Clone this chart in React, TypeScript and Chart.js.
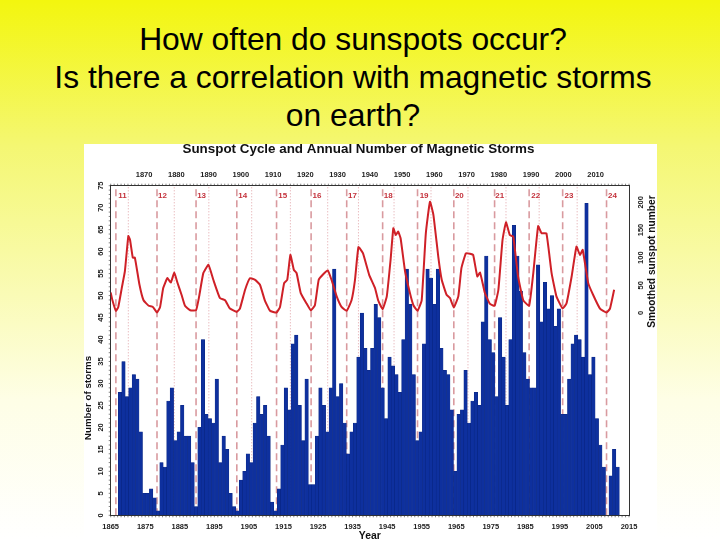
import { useEffect, useRef } from "react";
import Chart from "chart.js/auto";

const FIRST_STORM_YEAR = 1868;
// bars in the picture sit a little left of their year
const BAR_OFFSET = -0.3;

const stormCounts = [
  28, 35, 27, 29, 32, 31, 19, 5, 5, 6, 4, 1, 12, 11, 26, 29, 17, 19, 25, 18, 18, 12, 2, 20, 40, 23, 22, 21, 31, 12,
  18, 15, 5, 2, 1, 8, 10, 14, 12, 21, 27, 23, 25, 18, 3, 1, 6, 16, 29, 24, 39, 41, 25, 17, 31, 7, 7, 18, 29, 25,
  19, 29, 56, 27, 30, 21, 14, 19, 21, 36, 46, 38, 33, 38, 48, 45, 29, 22, 36, 34, 32, 28, 40, 56, 48, 32, 17, 19, 39, 56,
  54, 48, 56, 38, 33, 32, 24, 10, 23, 24, 33, 21, 26, 28, 25, 44, 59, 40, 37, 27, 45, 36, 25, 40, 66, 59, 51, 37, 31, 29,
  29, 57, 44, 53, 47, 50, 43, 47, 23, 23, 31, 39, 41, 40, 36, 71, 32, 36, 22, 16, 11, 0, 9, 15, 11,
];

const ssnYears = [
  1865, 1865.5, 1866.5, 1867.2, 1868.2, 1869.1, 1870.1, 1870.6, 1871.4, 1872, 1873.3, 1874.5, 1876, 1877.2, 1878.4,
  1879.3, 1880.2, 1881.4, 1882.4, 1883.4, 1884.3, 1885.5, 1886.5, 1888, 1889.7, 1890.6, 1891.8, 1893.3, 1894.7, 1896.6,
  1898.1, 1899.5, 1901.5, 1902.4, 1903.9, 1905.3, 1906.8, 1908.2, 1909.6, 1911.1, 1913, 1914, 1915.2, 1916.1, 1917,
  1918, 1918.8, 1920, 1921.7, 1922.9, 1924.1, 1925.2, 1926.5, 1927.8, 1928.9, 1930.4, 1931.8, 1933.3, 1934.7, 1935.7,
  1936.7, 1938, 1939.8, 1941.5, 1942.4, 1943.7, 1944.9, 1946, 1946.8, 1947.5, 1948.2, 1948.9, 1950.2, 1951.6, 1952.6,
  1953.8, 1955, 1956.2, 1957.4, 1958.4, 1959.8, 1960.8, 1962.2, 1963.2, 1964.3, 1965.6, 1966.5, 1967.8, 1969, 1969.9,
  1971.1, 1971.9, 1973.3, 1974.7, 1976.1, 1977.2, 1978.4, 1979.4, 1980.5, 1981.5, 1982.9, 1984.4, 1986.1, 1987.3, 1988.7,
  1989.7, 1991.1, 1992.6, 1994, 1995.8, 1996.9, 1998.4, 1999.8, 2000.8, 2001.6, 2003.2, 2004.6, 2006.6, 2008.5, 2009.5,
  2010.7,
];
const ssnValues = [
  37, 23, 4, 11, 45, 75, 139, 132, 100, 100, 52, 23, 13, 11, 1,
  11, 45, 63, 55, 73, 55, 33, 13, 5, 5, 30, 72, 87, 60, 27,
  23, 8, 2, 8, 42, 63, 60, 51, 23, 4, 1, 11, 54, 60, 105,
  78, 72, 36, 17, 5, 14, 60, 70, 77, 60, 30, 11, 4, 23, 60,
  119, 108, 69, 45, 23, 7, 30, 96, 153, 141, 147, 135, 75, 36, 14,
  4, 23, 144, 201, 177, 102, 60, 33, 27, 10, 30, 81, 108, 107, 105,
  66, 73, 36, 17, 13, 42, 132, 164, 141, 138, 66, 23, 13, 72, 157,
  144, 144, 72, 30, 8, 17, 66, 120, 105, 114, 54, 33, 8, 1, 8,
  42,
];

const minimumYears = [1866.5, 1878.4, 1889.7, 1901.5, 1913, 1923, 1933.3, 1943.7, 1953.8, 1964.3, 1976.1, 1986.1, 1995.8, 2008.5];
const maximumYears = [1870.1, 1883.4, 1893.4, 1905.8, 1917, 1927.8, 1936.7, 1947, 1957.7, 1968.4, 1979.4, 1989, 2000];
const cycleNames = ["11", "12", "13", "14", "15", "16", "17", "18", "19", "20", "21", "22", "23", "24"];
const cycleNameYears = [1868.4, 1880, 1891.3, 1903.2, 1914.8, 1924.7, 1935, 1945.3, 1955.7, 1965.9, 1977.6, 1988, 1997.6, 2010.2];

const bottomTicks = [1865, 1875, 1885, 1895, 1905, 1915, 1925, 1935, 1945, 1955, 1965, 1975, 1985, 1995, 2005, 2015];
const topTicks = [1870, 1880, 1890, 1900, 1910, 1920, 1930, 1940, 1950, 1960, 1970, 1980, 1990, 2000, 2010];
const stormTicks = [0, 5, 10, 15, 20, 25, 30, 35, 40, 45, 50, 55, 60, 65, 70, 75];
const ssnTicks = [0, 50, 100, 150, 200];

const TICK_FONT = { family: "'Liberation Sans'", size: 7.5, weight: "bold" as const };
const AXIS_COLOR = "#333";

const setTicks = (values: number[]) => (axis: any) => {
  axis.ticks = values.map((value) => ({ value }));
};
const fixSize = (key: "width" | "height", size: number) => (axis: any) => {
  axis[key] = size;
};

// title, axis titles, cycle numbers and the small ticks R draws between the labelled ones
const extrasPlugin = {
  id: "extras",
  afterDraw(chart: any) {
    const { ctx, scales, chartArea } = chart;
    const { x, y } = scales;

    ctx.save();
    ctx.strokeStyle = AXIS_COLOR;
    ctx.lineWidth = 0.6;
    ctx.beginPath();
    for (let year = 1865; year <= 2015; year++) {
      const px = x.getPixelForValue(year);
      ctx.moveTo(px, chartArea.top);
      ctx.lineTo(px, chartArea.top - 2);
      ctx.moveTo(px, chartArea.bottom);
      ctx.lineTo(px, chartArea.bottom + 2);
    }
    for (let count = 0; count <= 75; count++) {
      const py = y.getPixelForValue(count);
      ctx.moveTo(chartArea.left, py);
      ctx.lineTo(chartArea.left - 2, py);
    }
    ctx.stroke();

    ctx.textAlign = "center";
    ctx.textBaseline = "middle";
    ctx.fillStyle = "#c4323c";
    ctx.font = "bold 8px 'Liberation Sans'";
    cycleNames.forEach((name, i) => {
      ctx.fillText(name, x.getPixelForValue(cycleNameYears[i]), y.getPixelForValue(72.8));
    });

    ctx.fillStyle = "#111";
    ctx.font = "bold 13.4px 'Liberation Sans'";
    ctx.fillText("Sunspot Cycle and Annual Number of Magnetic Storms", x.getPixelForValue(1936.7), 5.5);
    ctx.font = "bold 10.4px 'Liberation Sans'";
    ctx.fillText("Year", x.getPixelForValue(1940), 392.5);

    ctx.save();
    ctx.translate(4, y.getPixelForValue(26.7));
    ctx.rotate(-Math.PI / 2);
    ctx.font = "bold 9.8px 'Liberation Sans'";
    ctx.fillText("Number of storms", 0, 0);
    ctx.restore();

    ctx.save();
    ctx.translate(568, scales.ssn.getPixelForValue(93));
    ctx.rotate(-Math.PI / 2);
    ctx.font = "bold 10.2px 'Liberation Sans'";
    ctx.fillText("Smoothed sunspot number", 0, 0);
    ctx.restore();
    ctx.restore();
  },
};

export default function App() {
  const canvasRef = useRef<HTMLCanvasElement | null>(null);

  useEffect(() => {
    if (!canvasRef.current) return;

    const dashed = minimumYears.map((year) => ({
      type: "line" as const,
      data: [{ x: year, y: 0 }, { x: year, y: 75 }],
      borderColor: "#d99a9f",
      borderWidth: 1.6,
      borderDash: [7, 4],
      pointRadius: 0,
      order: 5,
    }));
    const dotted = maximumYears.map((year) => ({
      type: "line" as const,
      data: [{ x: year, y: 0 }, { x: year, y: 75 }],
      borderColor: "#d98a90",
      borderWidth: 0.8,
      borderDash: [1, 2],
      pointRadius: 0,
      order: 5,
    }));

    const chart = new Chart(canvasRef.current, {
      type: "bar",
      data: {
        datasets: [
          {
            type: "line" as const,
            label: "Smoothed sunspot number",
            data: ssnYears.map((year, i) => ({ x: year, y: ssnValues[i] })),
            yAxisID: "ssn",
            borderColor: "#cf2027",
            borderWidth: 2,
            tension: 0.12,
            pointRadius: 0,
            order: 1,
          },
          {
            label: "Number of storms",
            data: stormCounts.map((count, i) => ({ x: FIRST_STORM_YEAR + i + BAR_OFFSET, y: count })),
            backgroundColor: "#0e309e",
            borderColor: "#0a2680",
            borderWidth: 0.5,
            barPercentage: 1,
            categoryPercentage: 1,
            order: 2,
          },
          ...dashed,
          ...dotted,
        ] as any,
      },
      options: {
        responsive: false,
        animation: false,
        layout: { padding: 0 },
        plugins: { legend: { display: false }, tooltip: { enabled: false } },
        scales: {
          x: {
            type: "linear",
            position: "bottom",
            min: 1865,
            max: 2015,
            offset: false,
            afterBuildTicks: setTicks(bottomTicks),
            afterFit: fixSize("height", 24.7),
            grid: { display: false, drawTicks: true, tickLength: 4, tickColor: AXIS_COLOR },
            border: { color: AXIS_COLOR, width: 1 },
            ticks: { color: "#222", font: TICK_FONT, padding: 3, maxRotation: 0, callback: (v: any) => String(v) },
          },
          top: {
            type: "linear",
            position: "top",
            min: 1865,
            max: 2015,
            afterBuildTicks: setTicks(topTicks),
            afterFit: fixSize("height", 41.7),
            grid: { display: false, drawTicks: true, tickLength: 4, tickColor: AXIS_COLOR },
            border: { color: AXIS_COLOR, width: 1 },
            ticks: { color: "#222", font: TICK_FONT, padding: 2, maxRotation: 0, callback: (v: any) => String(v) },
          },
          y: {
            type: "linear",
            position: "left",
            min: 0,
            max: 75,
            afterBuildTicks: setTicks(stormTicks),
            afterFit: fixSize("width", 26.7),
            grid: { display: false, drawTicks: true, tickLength: 4, tickColor: AXIS_COLOR },
            border: { color: AXIS_COLOR, width: 1 },
            ticks: {
              color: "#222",
              font: TICK_FONT,
              padding: 2,
              minRotation: 90,
              maxRotation: 90,
              crossAlign: "center",
              callback: (v: any) => String(v),
            },
          },
          ssn: {
            type: "linear",
            position: "right",
            min: -365.5,
            max: 230,
            afterBuildTicks: setTicks(ssnTicks),
            afterFit: fixSize("width", 28),
            grid: { display: false, drawTicks: true, tickLength: 4, tickColor: AXIS_COLOR },
            border: { color: AXIS_COLOR, width: 1 },
            ticks: {
              color: "#222",
              font: TICK_FONT,
              padding: 2,
              minRotation: 90,
              maxRotation: 90,
              crossAlign: "center",
              callback: (v: any) => String(v),
            },
          },
        },
      } as any,
      plugins: [extrasPlugin],
    });

    return () => chart.destroy();
  }, []);

  return (
    <div
      style={{
        position: "fixed",
        left: 0,
        top: 0,
        width: 720,
        height: 540,
        overflow: "hidden",
        background: "linear-gradient(#f3f60e 0%, #f4f772 27%, #fefee6 74%, #ffffff 100%)",
      }}
    >
      <div
        style={{
          position: "absolute",
          left: 0,
          top: 20,
          width: 706,
          textAlign: "center",
          fontFamily: "'Liberation Sans'",
          fontSize: 31.8,
          lineHeight: "38px",
          color: "#000",
        }}
      >
        How often do sunspots occur?
        <br />
        Is there a correlation with magnetic storms
        <br />
        on earth?
      </div>
      <div style={{ position: "absolute", left: 84, top: 144, width: 573, height: 396, background: "#fff" }}>
        <canvas ref={canvasRef} width={573} height={396} style={{ display: "block" }} />
      </div>
    </div>
  );
}
